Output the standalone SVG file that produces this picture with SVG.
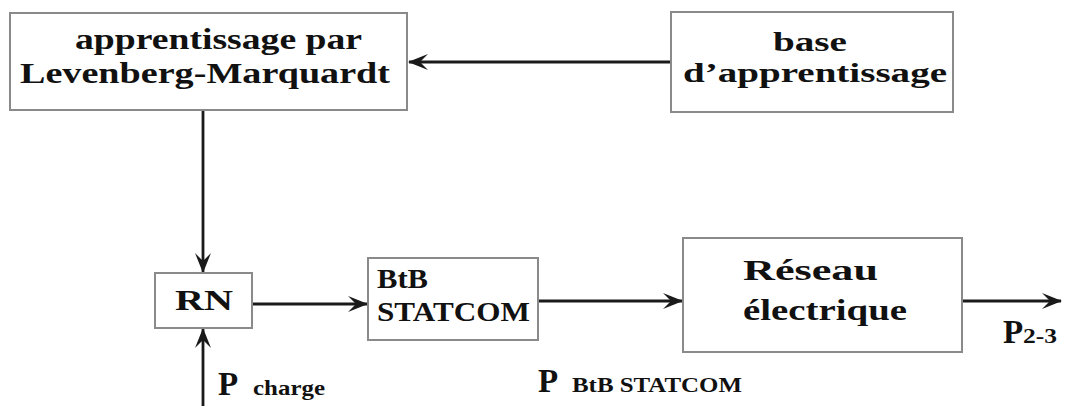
<svg xmlns="http://www.w3.org/2000/svg" width="1073" height="406" viewBox="0 0 1073 406">
<style>
.box{fill:#fff;stroke:#8a8a8a;stroke-width:2}
.t{font-family:"Liberation Serif","Times New Roman",serif;font-weight:bold;fill:#111}
.c{stroke:#1a1a1a;stroke-width:2.8;fill:none}
</style>
<defs>
<marker id="ah" viewBox="0 0 20 16" refX="19" refY="8" markerWidth="20" markerHeight="16" markerUnits="userSpaceOnUse" orient="auto">
<path d="M0,0 L20,8 L0,16 L8,8 z" fill="#1a1a1a"/>
</marker>
</defs>
<rect width="1073" height="406" fill="#fff"/>
<g id="connectors">
<line class="c" x1="671" y1="62" x2="409" y2="62" marker-end="url(#ah)"/>
<line class="c" x1="203" y1="110" x2="203" y2="272" marker-end="url(#ah)"/>
<line class="c" x1="203" y1="406" x2="203" y2="329" marker-end="url(#ah)"/>
<line class="c" x1="252" y1="304" x2="367" y2="304" marker-end="url(#ah)"/>
<line class="c" x1="538" y1="301" x2="682" y2="301" marker-end="url(#ah)"/>
<line class="c" x1="962" y1="301" x2="1061" y2="301" marker-end="url(#ah)"/>
</g>
<g id="lm">
<rect class="box" x="10" y="13" width="397" height="97"/>
<text class="t" x="75" y="49" font-size="29" textLength="287" lengthAdjust="spacingAndGlyphs">apprentissage par</text>
<text class="t" x="20" y="83" font-size="29" textLength="370" lengthAdjust="spacingAndGlyphs">Levenberg-Marquardt</text>
</g>
<g id="base">
<rect class="box" x="671" y="12" width="282" height="100"/>
<text class="t" x="773" y="51" font-size="28" textLength="74" lengthAdjust="spacingAndGlyphs">base</text>
<text class="t" x="683" y="82" font-size="28" textLength="264" lengthAdjust="spacingAndGlyphs">d’apprentissage</text>
</g>
<g id="rn">
<rect class="box" x="155" y="273" width="97" height="55"/>
<text class="t" x="175" y="310" font-size="29" textLength="58" lengthAdjust="spacingAndGlyphs">RN</text>
</g>
<g id="btb">
<rect class="box" x="368" y="258" width="170" height="82"/>
<text class="t" x="377" y="288" font-size="27" textLength="51" lengthAdjust="spacingAndGlyphs">BtB</text>
<text class="t" x="377" y="321" font-size="27" textLength="153" lengthAdjust="spacingAndGlyphs">STATCOM</text>
</g>
<g id="reseau">
<rect class="box" x="683" y="238" width="279" height="114"/>
<text class="t" x="743" y="280" font-size="29" textLength="135" lengthAdjust="spacingAndGlyphs">Réseau</text>
<text class="t" x="743" y="320" font-size="29" textLength="164" lengthAdjust="spacingAndGlyphs">électrique</text>
</g>
<g id="labels">
<text class="t" x="1003" y="343" font-size="33">P</text>
<text class="t" x="1023" y="343" font-size="22" textLength="34" lengthAdjust="spacingAndGlyphs">2-3</text>
<text class="t" x="538" y="392" font-size="33">P</text>
<text class="t" x="572" y="392" font-size="22" textLength="170" lengthAdjust="spacingAndGlyphs">BtB STATCOM</text>
<text class="t" x="218" y="395" font-size="33">P</text>
<text class="t" x="253" y="395" font-size="22" textLength="72" lengthAdjust="spacingAndGlyphs">charge</text>
</g>
</svg>
